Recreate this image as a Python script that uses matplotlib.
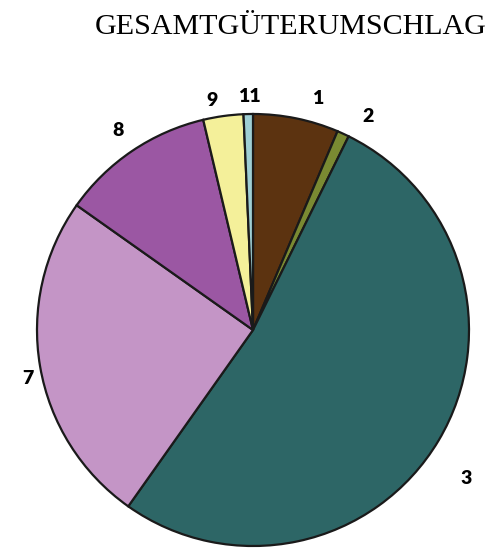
import matplotlib
matplotlib.use("Agg")
import matplotlib.pyplot as plt

# shares of total cargo handling (percent)
labels = ["1", "2", "3", "7", "8", "9", "11"]
values = [6.4, 0.9, 52.5, 25.0, 11.5, 3.0, 0.7]
colors = ["#5C3310", "#7A8A32", "#2D6666", "#C495C6", "#9B57A3", "#F4F09A", "#9FCFD4"]

# label centres in pixels (x, y from top)
label_pos = [(318, 98), (368, 116), (466, 478), (28, 378), (118, 131), (212, 101), (249, 96)]

W, H = 498, 551
fig = plt.figure(figsize=(W / 100, H / 100), dpi=100)
ax = fig.add_axes([0, 0, 1, 1])

ax.pie(values, colors=colors, startangle=90, counterclock=False,
       center=(253, H - 330), radius=216,
       wedgeprops=dict(edgecolor="#1a1a1a", linewidth=1.6))

for lab, (x, y) in zip(labels, label_pos):
    ax.text(x, H - y, lab, ha="center", va="center", fontsize=14,
            fontweight="heavy", family="Lato", color="black")

ax.text(291, H - 27, "GESAMTGÜTERUMSCHLAG", ha="center", va="center",
        fontsize=21.6, family="Liberation Serif", color="black")

ax.set_xlim(0, W)
ax.set_ylim(0, H)
ax.set_aspect("equal")
ax.axis("off")

fig.savefig("out.png", dpi=100)
